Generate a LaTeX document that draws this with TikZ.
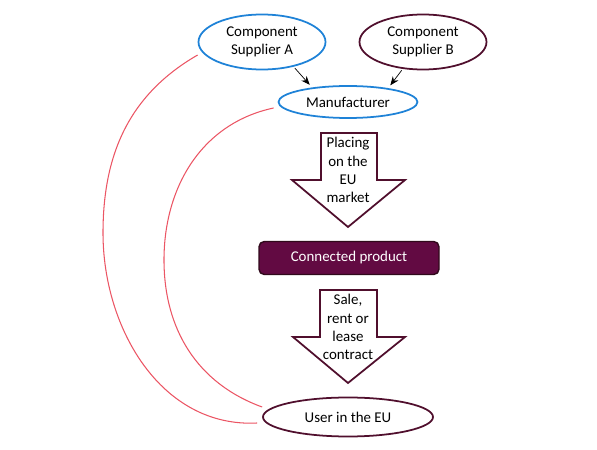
\documentclass[tikz,border=0pt]{standalone}
\usepackage{fontspec}
\setmainfont{Carlito}
\usetikzlibrary{shapes.geometric,arrows.meta}
\definecolor{partyblue}{RGB}{30,130,215}
\definecolor{plum}{RGB}{98,10,66}
\definecolor{plumline}{RGB}{80,15,45}
\definecolor{linkred}{RGB}{235,85,100}
\begin{document}
\begin{tikzpicture}[
  txt/.style={font=\fontsize{8.5}{10.3}\selectfont,align=center},
  party/.style={txt,ellipse,line width=1pt,inner sep=0pt},
  feed/.style={-{Stealth[length=5pt,width=4pt]},shorten >=2pt,shorten <=1pt},
  link/.style={linkred,line width=.6pt},
  bigarrow/.style={draw=plumline,fill=white,line width=1pt,line join=miter}]
  \useasboundingbox (0,0) rectangle (11.94,9);
  \node[party,draw=partyblue,minimum width=2.54cm,minimum height=1.1cm] (supA) at (5.24,8.16) {Component\\Supplier A};
  \node[party,draw=plumline,minimum width=2.54cm,minimum height=1.1cm] (supB) at (8.46,8.16) {Component\\Supplier B};
  \node[party,draw=partyblue,minimum width=2.78cm,minimum height=.64cm] (manu) at (6.96,6.96) {Manufacturer};
  \node[txt,draw=plumline!60!black,fill=plum,text=white,rounded corners=3pt,line width=.8pt,
    minimum width=3.6cm,minimum height=.66cm] (prod) at (6.98,3.84) {Connected product};
  \node[party,draw=plumline,minimum width=3.4cm,minimum height=.78cm] (user) at (6.96,.66) {User in the EU};
  \draw[feed] (supA.-38) -- (manu.158);
  \draw[feed] (supB.233) -- (manu.19);
  \draw[bigarrow] (6.42,6.34) -- (7.54,6.34) -- (7.54,5.4) -- (8.10,5.4) -- (6.96,4.46) -- (5.84,5.4) -- (6.42,5.4) -- cycle;
  \node[txt] (placing) at (6.96,5.6) {Placing\\on the\\EU\\market};
  \draw[bigarrow] (6.40,3.2) -- (7.54,3.2) -- (7.54,2.26) -- (8.10,2.26) -- (6.96,1.34) -- (5.86,2.26) -- (6.40,2.26) -- cycle;
  \node[txt] (sale) at (6.96,2.46) {Sale,\\rent or\\lease\\contract};
  \coordinate (outerL) at (2.06,4.34);
  \coordinate (innerL) at (3.28,3.8);
  \draw[link] ([yshift=-.26cm]supA.west) to[out=210,in=90] (outerL) to[out=270,in=183] ([xshift=-.1cm,yshift=-.12cm]user.west);
  \draw[link] ([xshift=-.08cm,yshift=-.12cm]manu.west) to[out=192,in=90] (innerL) to[out=270,in=160] ([yshift=.2cm]user.west);
\end{tikzpicture}
\end{document}
